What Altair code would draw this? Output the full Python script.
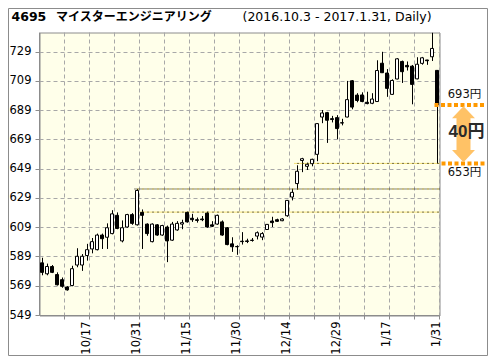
import altair as alt
import pandas as pd

# ---------------- data ----------------
dates = [
    "10/3", "10/4", "10/5", "10/6", "10/7", "10/11", "10/12", "10/13", "10/14", "10/17",
    "10/18", "10/19", "10/20", "10/21", "10/24", "10/25", "10/26", "10/27", "10/28", "10/31",
    "11/1", "11/2", "11/4", "11/7", "11/8", "11/9", "11/10", "11/11", "11/14", "11/15",
    "11/16", "11/17", "11/18", "11/21", "11/22", "11/24", "11/25", "11/28", "11/29", "11/30",
    "12/1", "12/2", "12/5", "12/6", "12/7", "12/8", "12/9", "12/12", "12/13", "12/14",
    "12/15", "12/16", "12/19", "12/20", "12/21", "12/22", "12/26", "12/27", "12/28", "12/29",
    "12/30", "1/4", "1/5", "1/6", "1/10", "1/11", "1/12", "1/13", "1/16", "1/17",
    "1/18", "1/19", "1/20", "1/23", "1/24", "1/25", "1/26", "1/27", "1/30", "1/31",
]
opens = [
    585, 577.5, 582.5, 577, 573.5, 568.5, 569.5, 583.5, 583.5, 590,
    594.5, 594, 604, 602.5, 605, 617.5, 600, 609.5, 618, 611,
    619.5, 611.5, 599.5, 611, 604, 609.5, 600.5, 607.5, 611.5, 619.5,
    615.5, 614.5, 615, 619, 611, 611.5, 613, 609, 598, 596.2,
    599.8, 600, 600.5, 603.3, 602.6, 607.8, 613.6, 614.5, 613.8, 617.2,
    630, 639.2, 655, 651, 652.8, 659.2, 684.7, 687.7, 683.6, 684.3,
    680.8, 684.7, 709.5, 699.7, 699.8, 694.8, 694.1, 695.3, 721.5, 714.8,
    700.2, 710.7, 722.7, 720, 719.5, 710.8, 721.4, 723.7, 725.9, 716.6,
]
highs = [
    588.5, 584.5, 583.5, 578.5, 575, 569, 583, 595, 591, 598,
    602, 605, 605, 612, 621, 619.5, 614, 618.5, 619, 635.5,
    621.5, 612, 612, 611.5, 611, 610.5, 613, 613.5, 614.5, 620,
    618.5, 616, 617, 620, 613.5, 618, 614, 609.5, 602.5, 597,
    606, 601.5, 602, 606.5, 606, 611.5, 616.5, 615.2, 615.5, 628,
    635.7, 651.7, 656.8, 653.5, 656.2, 680.5, 689.5, 688.2, 685.5, 686,
    683.5, 709.4, 710, 701, 701.6, 702, 701, 723.5, 729.3, 717.5,
    710.5, 725, 723.3, 722.7, 720.3, 725.6, 725.8, 723.8, 742.3, 716.8,
]
lows = [
    576.5, 576.5, 578, 569.5, 568, 566, 569, 582, 579.5, 586.5,
    591.5, 593.5, 594.5, 594.5, 604.5, 608, 599, 609, 611, 610.5,
    594.5, 603.5, 599, 603.5, 603.5, 585.5, 600, 607, 608, 612.5,
    613, 612.5, 613.5, 609, 609.5, 611, 603.5, 597, 592.5, 590.5,
    597.5, 598.5, 599.5, 601, 600.5, 607.5, 609.5, 613, 613.5, 616.5,
    627.7, 635, 647, 648.5, 651, 654.5, 680.5, 667, 681, 669.5,
    679, 684.5, 690, 694.8, 694.8, 693.4, 693.5, 695, 715, 698.5,
    699.8, 710.5, 708, 716.5, 693.4, 710.5, 720.5, 720.4, 723, 653,
]
closes = [
    578.5, 582.5, 578.5, 570, 569, 566.5, 581, 589.5, 589.5, 594,
    599.5, 604, 601.5, 609, 618.5, 608.5, 609, 618, 612, 634.5,
    617.5, 605, 611.5, 604, 610.5, 600, 611.5, 612, 612.5, 613,
    614.5, 614, 614.5, 609.5, 610, 617.5, 604, 597.5, 596, 596,
    599.5, 599.6, 600.3, 605.6, 605, 611.3, 612.5, 613.4, 615, 627.7,
    633.2, 647.6, 656.2, 652.4, 655.8, 680.2, 687.5, 682.5, 683, 676.8,
    680.6, 696.6, 691.5, 696, 695.3, 693.9, 697, 716.5, 715, 704.3,
    709.7, 724.5, 715.7, 719, 707, 720.8, 725.2, 723.2, 731.6, 693,
]

y_ticks = [549, 569, 589, 609, 629, 649, 669, 689, 709, 729]
x_labels = ["10/17", "10/31", "11/15", "11/30", "12/14", "12/29", "1/17", "1/31"]
grid_dates = dates[4::5]

# horizontal reference levels (start date, price)
dark_level_start = ["10/31"]
dark_level_value = [635.5]
gold_level_start = ["11/1", "12/16"]
gold_level_value = [619.7, 653]

close_last = 693
low_last = 653
gap_text = "40円"

title_code = "4695"
title_name = "マイスターエンジニアリング"
title_range = "(2016.10.3 - 2017.1.31, Daily)"

# ---------------- chart ----------------
W, H = 400, 283
FONT = "DejaVu Sans, Noto Sans CJK JP"
GRAY = "#8c8c8c"
GOLD = "#E8C000"
ORANGE = "#FF9900"

df = pd.DataFrame({"date": dates, "open": opens, "high": highs,
                   "low": lows, "close": closes})

xscale = alt.Scale(domain=dates, paddingInner=0, paddingOuter=0)
yscale = alt.Scale(domain=[549, 742.5], nice=False, zero=False)

label_list = ",".join("'%s'" % s for s in x_labels)
x_axis = alt.Axis(values=grid_dates, bandPosition=1, labelAngle=270,
                  labelExpr="indexof([%s], datum.value) >= 0 ? datum.value : ''" % label_list,
                  title=None, grid=True, tickSize=4, labelPadding=2)
y_axis = alt.Axis(values=y_ticks, title=None, grid=True, tickSize=4, labelPadding=4)


def XF(field, **kw):
    return alt.X(field, scale=xscale, axis=x_axis, **kw)


def YF(field):
    return alt.Y(field, scale=yscale, axis=y_axis)


wicks = alt.Chart(df).mark_rule(color="black", strokeWidth=1, xOffset=0.5).encode(
    x=XF("date:N"), y=YF("low:Q"), y2="high:Q",
)

bodies = alt.Chart(df).mark_bar(size=3, stroke="black", strokeWidth=1).encode(
    x=XF("date:N"), y=YF("open:Q"), y2="close:Q",
    fill=alt.condition("datum.close >= datum.open", alt.value("white"), alt.value("black")),
)

dark_df = pd.DataFrame({"start": dark_level_start, "v": dark_level_value})
gold_df = pd.DataFrame({"start": gold_level_start, "v": gold_level_value})


def level(data, color, dash, offset=0):
    return alt.Chart(data).mark_rule(color=color, strokeWidth=1, strokeDash=dash,
                                     strokeDashOffset=offset).encode(
        x=XF("start:N", bandPosition=0),
        x2=alt.value(W),
        y=YF("v:Q"),
    )


dark_a = level(dark_df, "#000000", [1, 1])
dark_b = level(dark_df, GOLD, [1, 4], 2)
gold_a = level(gold_df, GOLD, [1, 1])
gold_b = level(gold_df, "#000000", [1, 4], 2)

close_df = pd.DataFrame({"d": [dates[-1]], "v": [close_last]})
low_df = pd.DataFrame({"v": [low_last]})
mid_df = pd.DataFrame({"v": [(close_last + low_last) / 2]})

orange_top = alt.Chart(close_df).mark_rule(color=ORANGE, strokeWidth=4, strokeDash=[4, 2.5]).encode(
    x=XF("d:N", bandPosition=0),
    x2=alt.value(W + 45),
    y=YF("v:Q"),
)
orange_low = alt.Chart(low_df).mark_rule(color=ORANGE, strokeWidth=4, strokeDash=[4, 2.5]).encode(
    x=alt.value(W + 2),
    x2=alt.value(W + 45),
    y=YF("v:Q"),
)

ARROW = ("M0,-1 L0.41,-0.57 L0.25,-0.57 L0.25,0.57 L0.41,0.57 L0,1 "
         "L-0.41,0.57 L-0.25,0.57 L-0.25,-0.57 L-0.41,-0.57 Z")
arrow = alt.Chart(mid_df).mark_point(shape=ARROW, filled=True, size=3136, color="#FFC266",
                                     opacity=1, strokeWidth=0).encode(
    x=alt.value(W + 24),
    y=YF("v:Q"),
)

top_label = alt.Chart(pd.DataFrame({"v": [close_last], "t": ["%d円" % close_last]})).mark_text(
    font=FONT, fontSize=11.5, color="#111111", dy=-10, align="center", baseline="middle").encode(
    x=alt.value(W + 25), y=YF("v:Q"), text="t:N")
low_label = alt.Chart(pd.DataFrame({"v": [low_last], "t": ["%d円" % low_last]})).mark_text(
    font=FONT, fontSize=11.5, color="#111111", dy=10, align="center", baseline="middle").encode(
    x=alt.value(W + 25), y=YF("v:Q"), text="t:N")
gap_label = alt.Chart(pd.DataFrame({"v": [(close_last + low_last) / 2], "t": [gap_text]})).mark_text(
    font="Liberation Sans, Noto Sans CJK JP", fontSize=17, fontWeight="bold", color="#2a2a2a",
    dy=-2, align="center", baseline="middle").encode(
    x=alt.value(W + 27), y=YF("v:Q"), text="t:N")

t1 = alt.Chart(pd.DataFrame({"t": [title_code]})).mark_text(
    font=FONT, fontSize=12.5, fontWeight="bold", color="black", align="left", baseline="alphabetic").encode(
    x=alt.value(-28), y=alt.value(-11.5), text="t:N")
t2 = alt.Chart(pd.DataFrame({"t": [title_name]})).mark_text(
    font="Noto Sans CJK JP", fontSize=12, fontWeight="bold", color="black", align="left", baseline="alphabetic").encode(
    x=alt.value(16.5), y=alt.value(-12), text="t:N")
t3 = alt.Chart(pd.DataFrame({"t": [title_range]})).mark_text(
    font=FONT, fontSize=12.5, color="black", align="left", baseline="alphabetic").encode(
    x=alt.value(203), y=alt.value(-11.5), text="t:N")

frame = alt.Chart(pd.DataFrame({"a": [0]})).mark_rect(
    fill="white", fillOpacity=0, stroke=GRAY, strokeWidth=1).encode(
    x=alt.value(-31), x2=alt.value(448), y=alt.value(-24), y2=alt.value(323))

chart = alt.layer(
    wicks, dark_a, dark_b, gold_a, gold_b,
    bodies,
    orange_top, orange_low, arrow,
    top_label, low_label, gap_label,
    t1, t2, t3, frame,
).properties(
    width=W, height=H,
    padding={"left": 31.5, "top": 24.5, "right": 48.5, "bottom": 40.5},
    autosize=alt.AutoSizeParams(type="none"),
    background="white",
).configure_view(
    stroke=GRAY, strokeWidth=1, fill="#FFFFEA",
).configure_axis(
    domainColor=GRAY, tickColor=GRAY, gridColor="#a8a8a8", gridDash=[4, 3],
    labelFont="DejaVu Sans", labelFontSize=11.5, labelColor="black", translate=0,
)

chart.save("out.html", embed_options={"renderer": "svg", "actions": False})
